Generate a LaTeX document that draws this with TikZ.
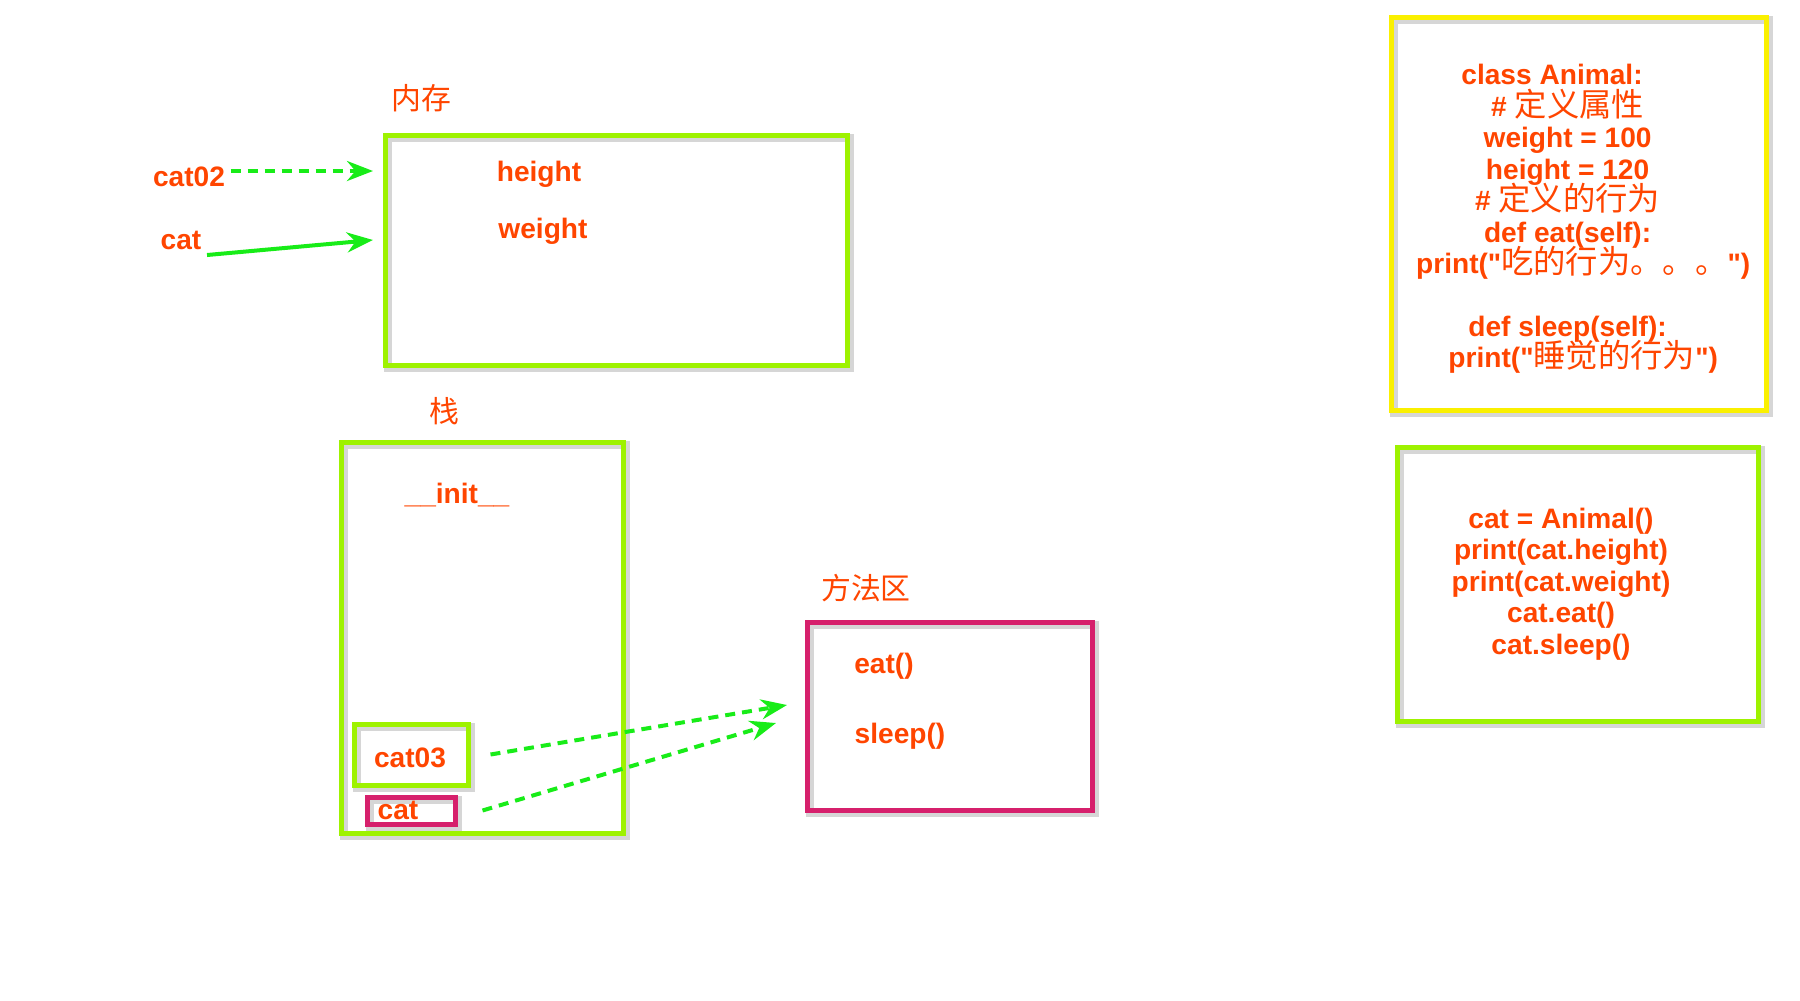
\documentclass[tikz,border=0pt]{standalone}
\usepackage{fontspec}
\setmainfont{Liberation Sans}
\newfontfamily\cjk{Noto Sans CJK SC}
\usepackage{tikz}
\usetikzlibrary{arrows.meta, positioning, fit}
\definecolor{codered}{RGB}{255,69,0}
\definecolor{limegreen}{RGB}{158,242,0}
\definecolor{rosered}{RGB}{214,32,108}
\definecolor{lemon}{RGB}{250,240,0}
\definecolor{arrowgreen}{RGB}{24,236,24}
\newcommand{\ind}{\hspace*{1.11em}}
\newcommand{\dq}{\XeTeXglyph\XeTeXcharglyph"22\relax}
\newcommand{\zh}[1]{\smash{\cjk\mdseries\fontsize{9.2}{8.96}\selectfont #1}}
\tikzstyle{wordlabel} = [text=codered, font=\bfseries\fontsize{8}{9}\selectfont, inner sep=0.5mm]
\tikzstyle{zhlabel} = [text=codered, font=\cjk\fontsize{8.5}{9}\selectfont, inner sep=0.5mm]
\tikzstyle{codetext} = [wordlabel, align=center, font=\bfseries\fontsize{8}{8.96}\selectfont]
\tikzstyle{boxframe} = [line width=0.5mm, inner sep=0pt, preaction={draw=black!16, line width=0.8mm, transform canvas={xshift=0.3mm, yshift=-0.3mm}}]
\tikzstyle{greenbox} = [boxframe, draw=limegreen]
\tikzstyle{pinkbox} = [boxframe, draw=rosered]
\tikzstyle{yellowbox} = [boxframe, draw=lemon]
\tikzstyle{arrow} = [line width=0.4mm, draw=arrowgreen, -{Stealth[length=2.6mm, width=2mm]}]
\tikzstyle{dasharrow} = [arrow, dash pattern=on 1mm off 0.7mm]

\begin{document}
\begin{tikzpicture}[x=0.1mm, y=-0.1mm]
        \useasboundingbox (0,0) rectangle (1800,1000);

        % memory
        \node (heap) [greenbox, fit={(385,135) (847,365)}] {};
        \node (heaplabel) [zhlabel] at (421,98) {内存};
        \node (height) [wordlabel] at (539,174) {height};
        \node (weight) [wordlabel] at (543,231) {weight};
        \node (cat02) [wordlabel] at (189,177) {cat02};
        \node (cat) [wordlabel] at (181,240) {cat};

        % stack
        \node (stack) [greenbox, fit={(341,442) (623,833)}] {};
        \node (stacklabel) [zhlabel] at (444,411) {栈};
        \node (init) [wordlabel] at (457,495) {\_\_init\_\_};
        \node (cat03box) [greenbox, fit={(354,724) (468,785)}] {};
        \node (cat03) [wordlabel] at (410,758) {cat03};
        \node (catbox) [pinkbox, fit={(367,797) (455,824)}] {};
        \node (catref) [wordlabel] at (398,810) {cat};

        % methods
        \node (method) [pinkbox, fit={(807,622) (1092,810)}] {};
        \node (methodlabel) [zhlabel] at (866,588) {方法区};
        \node (eat) [wordlabel] at (884,666) {eat()};
        \node (sleep) [wordlabel] at (900,736) {sleep()};

        % code
        \node (classbox) [yellowbox, fit={(1391,17) (1766,410)}] {};
        \node (classdef) [codetext] at (1552,219) {class Animal:\\
            \ind\# \zh{定义属性}\\
            \ind weight = 100\\
            \ind height = 120\\
            \ind\# \zh{定义的行为}\\
            \ind def eat(self):\\
            \ind\ind print(\dq\zh{吃的行为。。。}\dq)\\
            \mbox{}\\
            \ind def sleep(self):\\
            \ind\ind print(\dq\zh{睡觉的行为}\dq)};
        \node (mainbox) [greenbox, fit={(1397,447) (1758,721)}] {};
        \node (maincode) [codetext] at (1561,584) {cat = Animal()\\
            print(cat.height)\\
            print(cat.weight)\\
            cat.eat()\\
            cat.sleep()};

        \coordinate (heapin1) at (373,171);
        \coordinate (heapin2) at (373,240);
        \coordinate (eatin) at (787,705);
        \coordinate (sleepin) at (776,723);

        \draw [dasharrow] (cat02.east |- heapin1) -- (heapin1);
        \draw [arrow] (cat.south east) -- (heapin2);
        \draw [dasharrow] ([xshift=2mm]cat03box.east) -- (eatin);
        \draw [dasharrow] ([xshift=2.5mm]catbox.east) -- (sleepin);

        \end{tikzpicture}
\end{document}
